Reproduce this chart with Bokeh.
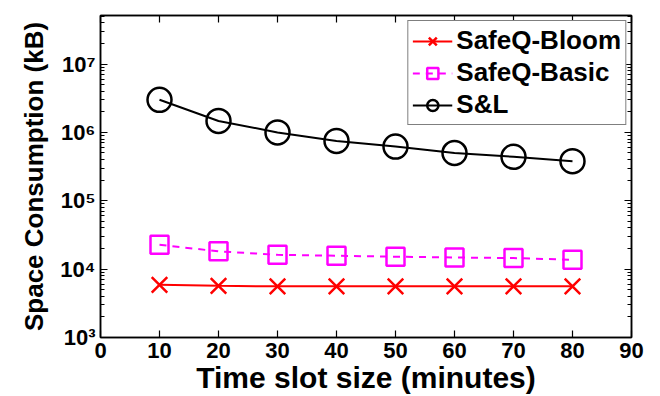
from bokeh.plotting import figure
from bokeh.models import (FixedTicker, LogAxis, LinearAxis, Range1d, Legend)
from bokeh.embed import file_html
from bokeh.resources import INLINE

# ---- data ----
slot_minutes = [10, 20, 30, 40, 50, 60, 70, 80]
safeq_bloom = [5.9e3, 5.7e3, 5.6e3, 5.6e3, 5.6e3, 5.6e3, 5.6e3, 5.6e3]
safeq_basic = [2.27e4, 1.82e4, 1.62e4, 1.57e4, 1.52e4, 1.48e4, 1.45e4, 1.37e4]
s_and_l = [3.0e6, 1.47e6, 1.0e6, 7.5e5, 6.2e5, 5.0e5, 4.4e5, 3.8e5]

x_ticks = [0, 10, 20, 30, 40, 50, 60, 70, 80, 90]
y_exponents = [3, 4, 5, 6, 7]
sup = {"3": "³", "4": "⁴", "5": "⁵", "6": "⁶", "7": "⁷"}

FONT = "Liberation Sans"

y_major = [10.0 ** e for e in y_exponents]
y_minor = [k * 10.0 ** e for e in range(3, 8) for k in range(2, 10)]
y_labels = {10.0 ** e: "10" + sup[str(e)] for e in y_exponents}

p = figure(width=660, height=396, y_axis_type="log",
           x_range=Range1d(0, 90), y_range=Range1d(1e3, 10 ** 7.71),
           output_backend="svg", toolbar_location=None,
           min_border_left=100, min_border_right=29,
           min_border_top=15, min_border_bottom=58,
           background_fill_color="white", border_fill_color="white")
p.grid.visible = False
p.outline_line_color = "black"
p.outline_line_width = 1.5

def style_axis(ax, show_labels=True):
    ax.axis_line_color = "black"
    ax.axis_line_width = 1.5
    ax.major_tick_in = 7
    ax.major_tick_out = 0
    ax.minor_tick_in = 4
    ax.minor_tick_out = 0
    ax.major_tick_line_width = 1.2
    ax.minor_tick_line_width = 1
    ax.major_label_text_font = FONT
    ax.major_label_text_font_style = "bold"
    ax.major_label_text_color = "black"
    ax.major_label_text_font_size = "22px" if show_labels else "0px"
    if not show_labels:
        ax.major_label_standoff = 0

yt = FixedTicker(ticks=y_major, minor_ticks=y_minor)
xt = FixedTicker(ticks=x_ticks, minor_ticks=[])

# bottom/left
p.xaxis.ticker = xt
p.yaxis.ticker = yt
p.yaxis.major_label_overrides = y_labels
style_axis(p.xaxis[0])
style_axis(p.yaxis[0])
p.xaxis.major_label_standoff = 5
p.yaxis.major_label_standoff = 5
p.xaxis.axis_label = "Time slot size (minutes)"
p.yaxis.axis_label = "Space Consumption (kB)"
for ax in (p.xaxis[0], p.yaxis[0]):
    ax.axis_label_text_font = FONT
    ax.axis_label_text_font_style = "bold"
    ax.axis_label_text_color = "black"
p.xaxis.axis_label_text_font_size = "30px"
p.yaxis.axis_label_text_font_size = "26px"
p.xaxis.axis_label_standoff = 0
p.yaxis.axis_label_standoff = 8

# mirrored top/right axes (ticks only)
top = LinearAxis(ticker=xt)
style_axis(top, show_labels=False)
top.major_label_overrides = {t: "" for t in x_ticks}
right = LogAxis(ticker=yt)
style_axis(right, show_labels=False)
right.major_label_overrides = {t: "" for t in y_major}
p.add_layout(top, "above")
p.add_layout(right, "right")

# series
r1l = p.line(slot_minutes, safeq_bloom, line_color="#ff0000", line_width=2)
r1m = p.scatter(slot_minutes, safeq_bloom, marker="x", size=22,
                line_color="#ff0000", line_width=2.5)
r2l = p.line(slot_minutes, safeq_basic, line_color="#ff00ff", line_width=2,
             line_dash="7 6")
r2m = p.scatter(slot_minutes, safeq_basic, marker="square", size=18,
                line_color="#ff00ff", fill_color=None, line_width=2.5)
r3l = p.line(slot_minutes, s_and_l, line_color="black", line_width=2)
r3m = p.scatter(slot_minutes, s_and_l, marker="circle", size=24,
                line_color="black", fill_color=None, line_width=2.5)

legend = Legend(items=[("SafeQ-Bloom", [r1l, r1m]),
                       ("SafeQ-Basic", [r2l, r2m]),
                       ("S&L", [r3l, r3m])],
                location="top_right")
legend.label_text_font = FONT
legend.label_text_font_style = "bold"
legend.label_text_font_size = "26px"
legend.label_text_color = "black"
legend.border_line_color = "black"
legend.border_line_width = 1.5
legend.background_fill_color = "white"
legend.background_fill_alpha = 1
legend.glyph_width = 40
legend.glyph_height = 28
legend.spacing = 1
legend.padding = 4
legend.margin = 5
legend.label_standoff = 4
p.add_layout(legend, "center")

open("out.html", "w").write(file_html(p, INLINE))
